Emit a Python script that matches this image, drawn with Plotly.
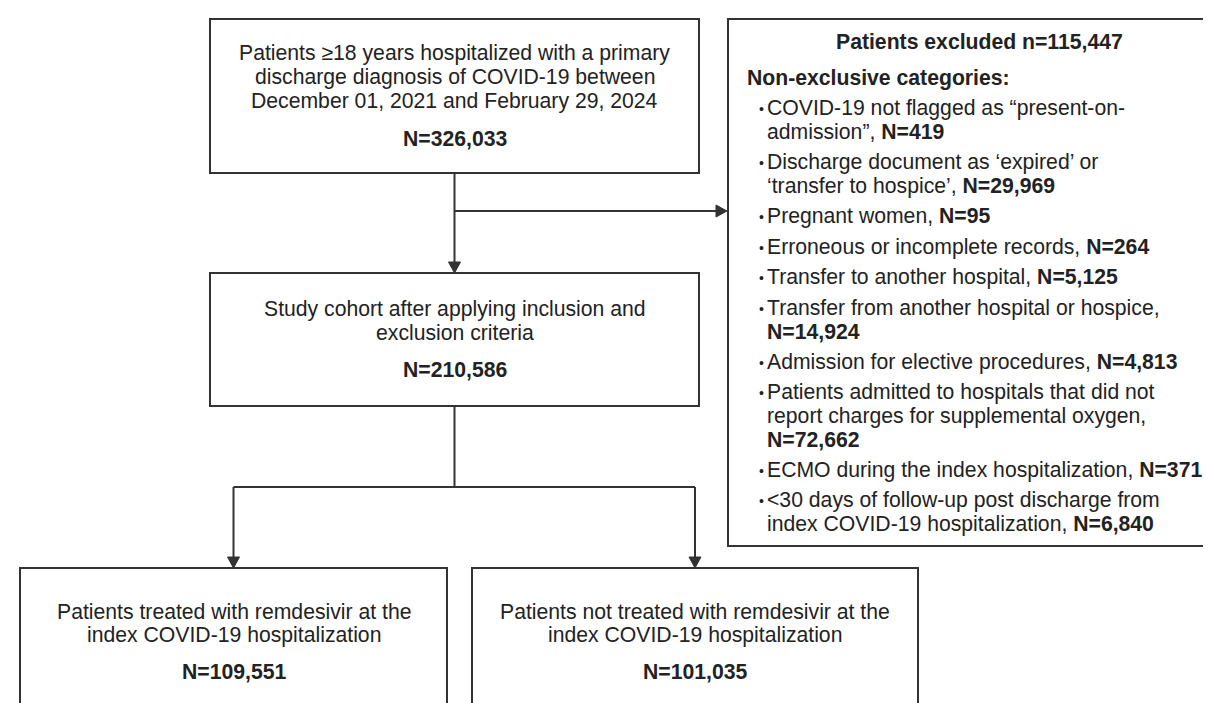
import plotly.graph_objects as go

# ---------------- data ----------------
source_lines = ["Patients ≥18 years hospitalized with a primary",
                "discharge diagnosis of COVID-19 between",
                "December 01, 2021 and February 29, 2024"]
source_n = 326033

cohort_lines = ["Study cohort after applying inclusion and",
                "exclusion criteria"]
cohort_n = 210586

treated_lines = ["Patients treated with remdesivir at the",
                 "index COVID-19 hospitalization"]
treated_n = 109551

untreated_lines = ["Patients not treated with remdesivir at the",
                   "index COVID-19 hospitalization"]
untreated_n = 101035

excluded_title = "Patients excluded n="
excluded_n = 115447
excluded_subtitle = "Non-exclusive categories:"

exclusion_reasons = [
    ["COVID-19 not flagged as “present-on-", "admission”, "],
    ["Discharge document as ‘expired’ or", "‘transfer to hospice’, "],
    ["Pregnant women, "],
    ["Erroneous or incomplete records, "],
    ["Transfer to another hospital, "],
    ["Transfer from another hospital or hospice,", ""],
    ["Admission for elective procedures, "],
    ["Patients admitted to hospitals that did not",
     "report charges for supplemental oxygen,", ""],
    ["ECMO during the index hospitalization, "],
    ["<30 days of follow-up post discharge from",
     "index COVID-19 hospitalization, "],
]
exclusion_counts = [419, 29969, 95, 264, 5125, 14924, 4813, 72662, 371, 6840]

# ---------------- styling / layout geometry ----------------
W, H = 1211, 703
LINE = "#333333"
TXT = "#222222"
FONT = "Liberation Sans, Arial, Helvetica, sans-serif"
FS = 21.2
LW = 2

boxes = {
    "source":    dict(x0=202, x1=691, y0=11, y1=165),
    "cohort":    dict(x0=202, x1=691, y0=265, y1=398),
    "excluded":  dict(x0=720, x1=1222, y0=11, y1=538),
    "treated":   dict(x0=12, x1=439, y0=560, y1=730),
    "untreated": dict(x0=464, x1=910, y0=560, y1=730),
}

def fmt(n):
    return f"{n:,}"

shapes = []
annotations = []

for b in boxes.values():
    shapes.append(dict(type="rect", xref="x", yref="y", **b,
                       line=dict(color=LINE, width=LW), fillcolor="rgba(0,0,0,0)"))

def seg(x0, y0, x1, y1):
    shapes.append(dict(type="line", xref="x", yref="y", x0=x0, y0=y0, x1=x1, y1=y1,
                       line=dict(color=LINE, width=LW)))

def head(x, y, direction):
    hw, hl = 6, 11
    if direction == "down":
        p = f"M {x-hw},{y-hl} L {x+hw},{y-hl} L {x},{y} Z"
    else:  # right
        p = f"M {x-hl},{y-hw} L {x-hl},{y+hw} L {x},{y} Z"
    shapes.append(dict(type="path", xref="x", yref="y", path=p,
                       fillcolor=LINE, line=dict(color=LINE, width=1)))

src, coh, exc = boxes["source"], boxes["cohort"], boxes["excluded"]
tr, un = boxes["treated"], boxes["untreated"]
cx_top = (src["x0"] + src["x1"]) / 2
cx_tr = (tr["x0"] + tr["x1"]) / 2
cx_un = (un["x0"] + un["x1"]) / 2
y_side = 203
y_split = 479

# arrows
seg(cx_top, src["y1"], cx_top, coh["y0"] - 10); head(cx_top, coh["y0"], "down")
seg(cx_top, y_side, exc["x0"] - 10, y_side); head(exc["x0"] - 1, y_side, "right")
seg(cx_top, coh["y1"], cx_top, y_split)
seg(cx_tr, y_split, cx_un, y_split)
seg(cx_tr, y_split, cx_tr, tr["y0"] - 10); head(cx_tr, tr["y0"], "down")
seg(cx_un, y_split, cx_un, un["y0"] - 10); head(cx_un, un["y0"], "down")

def text(x, y, s, anchor="center", size=FS):
    annotations.append(dict(x=x, y=y, xref="x", yref="y", text=s, showarrow=False,
                            xanchor=anchor, yanchor="middle",
                            font=dict(family=FONT, size=size, color=TXT)))

def box_text(cx, first_y, lines, n, n_y, step=24):
    for i, ln in enumerate(lines):
        text(cx, first_y + i * step, ln)
    text(cx, n_y, f"<b>N={fmt(n)}</b>")

box_text(cx_top, 45, source_lines, source_n, 130)
box_text(cx_top, 301, cohort_lines, cohort_n, 361, step=23)
box_text(cx_tr, 603, treated_lines, treated_n, 663)
box_text(cx_un, 603, untreated_lines, untreated_n, 663)

# excluded box
text((exc["x0"] + exc["x1"]) / 2, 33, f"<b>{excluded_title}{fmt(excluded_n)}</b>")
text(737, 70, f"<b>{excluded_subtitle}</b>", anchor="left")
y = 100
for lines, n in zip(exclusion_reasons, exclusion_counts):
    text(753, y + 1, "•", size=14)
    for j, ln in enumerate(lines):
        s = ln + (f"<b>N={fmt(n)}</b>" if j == len(lines) - 1 else "")
        text(757, y, s, anchor="left")
        if j < len(lines) - 1:
            y += 23.5
    y += 30.5

fig = go.Figure()
fig.add_trace(go.Scatter(x=[0, W], y=[0, H], mode="markers",
                         marker=dict(opacity=0), hoverinfo="skip", showlegend=False))
fig.update_layout(
    width=W, height=H, margin=dict(l=0, r=0, t=0, b=0),
    paper_bgcolor="white", plot_bgcolor="white",
    xaxis=dict(range=[0, W], visible=False, fixedrange=True),
    yaxis=dict(range=[H, 0], visible=False, fixedrange=True),
    shapes=shapes, annotations=annotations, showlegend=False,
)
fig.write_html("out.html", config={"displayModeBar": False})
